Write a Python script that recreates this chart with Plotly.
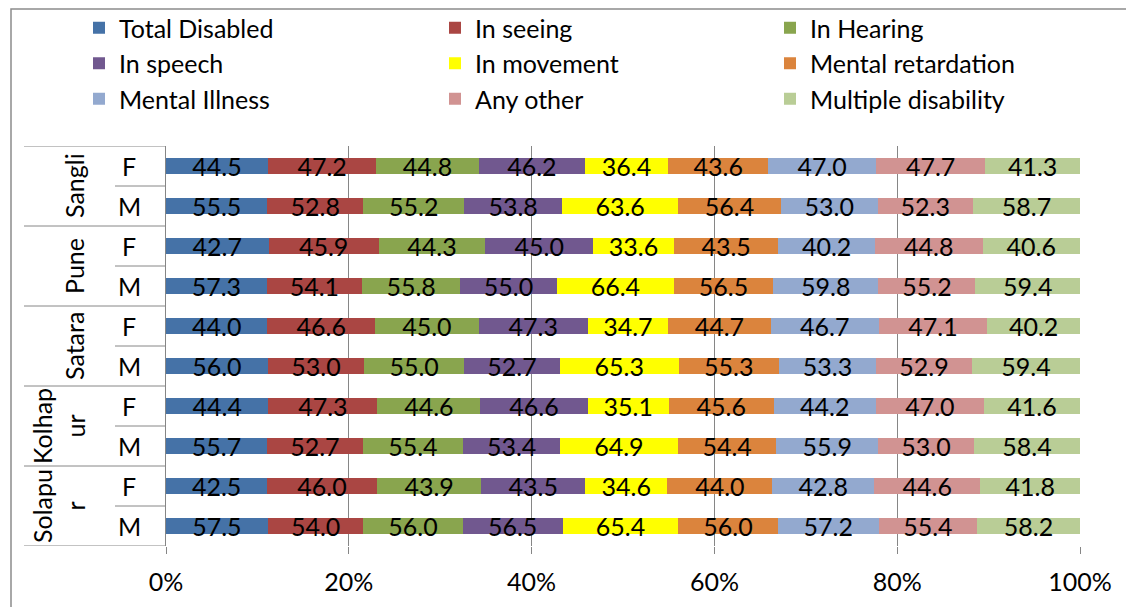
import plotly.graph_objects as go

# Districts and sexes, listed top to bottom as drawn
districts = ["Sangli", "Pune", "Satara", "Kolhapur", "Solapur"]
district_labels = ["Sangli", "Pune", "Satara", "Kolhap<br>ur", "Solapu<br>r"]
sexes = ["F", "M"]

series_names = [
    "Total Disabled", "In seeing", "In Hearing",
    "In speech", "In movement", "Mental retardation",
    "Mental Illness", "Any other", "Multiple disability",
]
series_colors = [
    "#4572A7", "#AA4643", "#89A54E",
    "#71588F", "#FFFF00", "#DB843D",
    "#93A9CF", "#D19392", "#B9CD96",
]

# Percentage share of each sex, per disability type
total_disabled = [44.5, 55.5, 42.7, 57.3, 44.0, 56.0, 44.4, 55.7, 42.5, 57.5]
in_seeing = [47.2, 52.8, 45.9, 54.1, 46.6, 53.0, 47.3, 52.7, 46.0, 54.0]
in_hearing = [44.8, 55.2, 44.3, 55.8, 45.0, 55.0, 44.6, 55.4, 43.9, 56.0]
in_speech = [46.2, 53.8, 45.0, 55.0, 47.3, 52.7, 46.6, 53.4, 43.5, 56.5]
in_movement = [36.4, 63.6, 33.6, 66.4, 34.7, 65.3, 35.1, 64.9, 34.6, 65.4]
mental_retardation = [43.6, 56.4, 43.5, 56.5, 44.7, 55.3, 45.6, 54.4, 44.0, 56.0]
mental_illness = [47.0, 53.0, 40.2, 59.8, 46.7, 53.3, 44.2, 55.9, 42.8, 57.2]
any_other = [47.7, 52.3, 44.8, 55.2, 47.1, 52.9, 47.0, 53.0, 44.6, 55.4]
multiple_disability = [41.3, 58.7, 40.6, 59.4, 40.2, 59.4, 41.6, 58.4, 41.8, 58.2]

series_values = [
    total_disabled, in_seeing, in_hearing,
    in_speech, in_movement, mental_retardation,
    mental_illness, any_other, multiple_disability,
]

x_ticks = [0, 20, 40, 60, 80, 100]
x_tick_labels = ["0%", "20%", "40%", "60%", "80%", "100%"]

rows = [f"{d} {s}" for d in districts for s in sexes]

FONT = "Lato, Calibri, Carlito, sans-serif"
FS = 25
GRID = "#868686"

# pixel geometry of the plotting area
W, H = 1126, 607
L, R, T, B = 166, 46, 146, 61
PW = W - L - R
PH = H - T - B


def px_to_paper_x(px):
    return (px - L) / PW


def px_to_paper_y(py):
    return (H - B - py) / PH


fig = go.Figure()

legend_ids = ["legend", "legend2", "legend3"]
for i, (name, color, vals) in enumerate(zip(series_names, series_colors, series_values)):
    fig.add_trace(go.Bar(
        name=name,
        y=rows,
        x=vals,
        orientation="h",
        marker=dict(color=color, line=dict(width=0)),
        text=vals,
        texttemplate="%{text:.1f}",
        textposition="inside",
        insidetextanchor="middle",
        constraintext="none",
        textfont=dict(family=FONT, size=FS, color="black"),
        legend=legend_ids[i % 3],
        legendgroup=name,
        hoverinfo="skip",
    ))

legend_common = dict(
    orientation="v",
    yanchor="top",
    xanchor="left",
    font=dict(family=FONT, size=FS, color="black"),
    bgcolor="rgba(0,0,0,0)",
    tracegroupgap=0,
    itemwidth=30,
)
legend_top = px_to_paper_y(5)

shapes = []
# chart frame
shapes.append(dict(
    type="rect", xref="paper", yref="paper",
    x0=px_to_paper_x(11), x1=px_to_paper_x(1160),
    y0=px_to_paper_y(640), y1=px_to_paper_y(9),
    line=dict(color="#8C8C8C", width=1.5), fillcolor="rgba(0,0,0,0)", layer="below",
))
# category separators on the left axis
for k in range(len(rows) + 1):
    ypos = k - 0.5
    if k % 2 == 0:
        x0 = px_to_paper_x(24)
    else:
        x0 = px_to_paper_x(115)
    shapes.append(dict(
        type="line", xref="paper", yref="y",
        x0=x0, x1=0, y0=ypos, y1=ypos,
        line=dict(color=GRID, width=1),
    ))

annotations = []
for j, lbl in enumerate(district_labels):
    annotations.append(dict(
        text=lbl, xref="paper", yref="y",
        x=px_to_paper_x(74 if "<br>" not in lbl else 58), y=2 * j + 0.5,
        textangle=-90, showarrow=False,
        font=dict(family=FONT, size=FS, color="black"),
        xanchor="center", yanchor="middle",
    ))
for k, r in enumerate(rows):
    annotations.append(dict(
        text=r.split(" ")[-1], xref="paper", yref="y",
        x=px_to_paper_x(129), y=k,
        showarrow=False,
        font=dict(family=FONT, size=FS, color="black"),
        xanchor="center", yanchor="middle",
    ))

fig.update_layout(
    width=W, height=H,
    margin=dict(l=L, r=R, t=T, b=B, pad=0, autoexpand=False),
    barmode="stack",
    barnorm="percent",
    bargap=0.6,
    paper_bgcolor="white",
    plot_bgcolor="white",
    font=dict(family=FONT, size=FS, color="black"),
    legend=dict(legend_common, x=px_to_paper_x(79), y=legend_top),
    legend2=dict(legend_common, x=px_to_paper_x(435), y=legend_top),
    legend3=dict(legend_common, x=px_to_paper_x(770), y=legend_top),
    shapes=shapes,
    annotations=annotations,
    xaxis=dict(
        range=[0, 100],
        tickvals=x_ticks,
        ticktext=x_tick_labels,
        showgrid=True, gridcolor=GRID, gridwidth=1,
        zeroline=False, showline=False,
        ticks="outside", ticklen=7, tickcolor=GRID, tickwidth=1,
        ticklabelstandoff=7,
        tickfont=dict(family=FONT, size=FS, color="black"),
        automargin=False,
        fixedrange=True,
    ),
    yaxis=dict(
        type="category",
        categoryorder="array",
        categoryarray=rows,
        range=[len(rows) - 0.5, -0.5],
        showticklabels=False,
        showgrid=False, zeroline=False,
        showline=True, linecolor=GRID, linewidth=1,
        ticks="",
        automargin=False,
        fixedrange=True,
    ),
)

fig.write_html("out.html")
